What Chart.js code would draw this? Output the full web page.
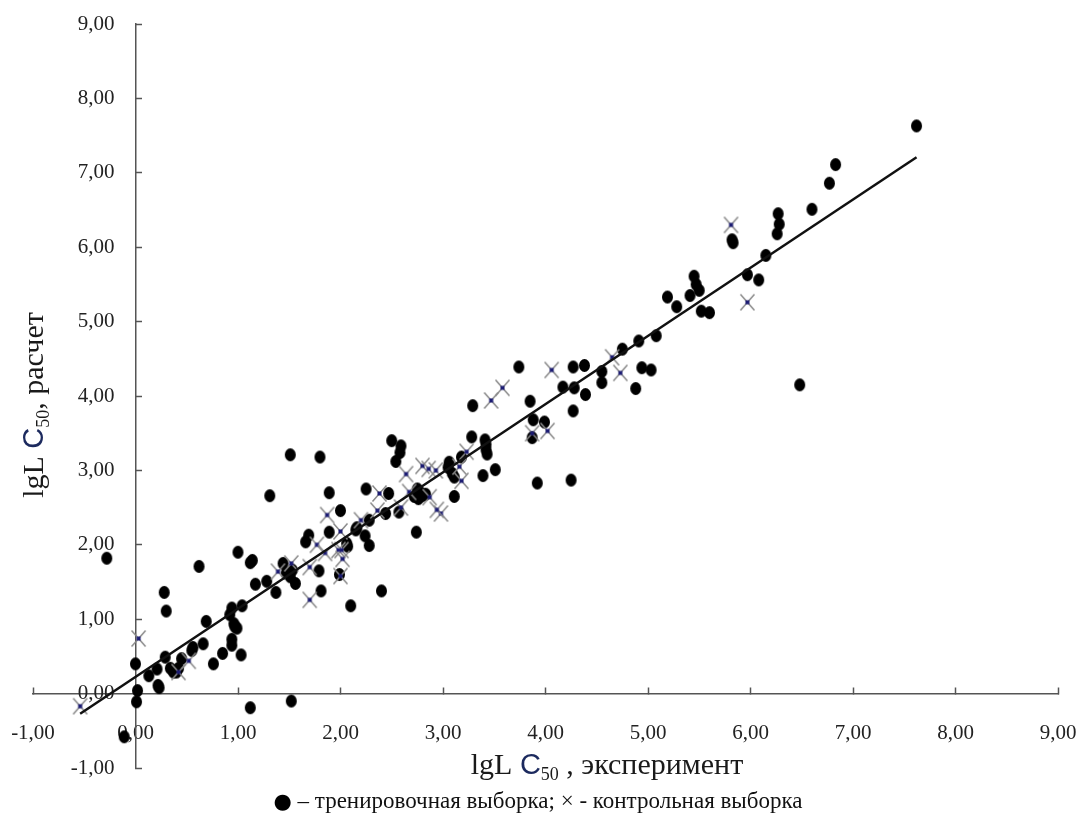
<!DOCTYPE html>
<html lang="ru">
<head>
<meta charset="UTF-8">
<title>lgLC50: расчет / эксперимент</title>
<script src="https://cdn.jsdelivr.net/npm/chart.js"></script>
<style>
  html, body { margin: 0; padding: 0; background: #fff; }
  #wrap { width: 1080px; height: 828px; }
</style>
</head>
<body>
<div id="wrap"><canvas id="chart" width="1080" height="828"></canvas></div>
<script>
// тренировочная выборка (●)
const trainX = [-0.28, -0.11, 0.00, 0.02, 0.01, 0.13, 0.21, 0.22, 0.23, 0.28, 0.30, 0.29, 0.34, 0.37, 0.40, 0.42, 0.45, 0.55, 0.56, 0.62,
  0.66, 0.69, 0.76, 0.85, 0.92, 0.94, 0.94, 0.94, 0.96, 0.99, 0.97, 1.00, 1.03, 1.04, 1.12, 1.12, 1.14, 1.17, 1.28, 1.31,
  1.37, 1.44, 1.47, 1.51, 1.53, 1.56, 1.51, 1.52, 1.66, 1.69, 1.79, 1.80, 1.81, 1.89, 1.89, 1.99, 2.00, 2.06, 2.07, 2.10,
  2.15, 2.16, 2.24, 2.28, 2.28, 2.25, 2.40, 2.44, 2.47, 2.50, 2.54, 2.57, 2.58, 2.59, 2.74, 2.72, 2.75, 2.78, 2.80, 2.76,
  2.83, 3.05, 3.06, 3.09, 3.11, 3.11, 3.18, 3.28, 3.29, 3.39, 3.41, 3.42, 3.42, 3.43, 3.51, 3.74, 3.85, 3.88, 3.87, 3.92,
  3.99, 4.17, 4.25, 4.27, 4.28, 4.27, 4.38, 4.39, 4.55, 4.55, 4.75, 4.91, 5.08, 4.94, 5.03, 4.88, 5.19, 5.28, 5.41, 5.45,
  5.47, 5.50, 5.52, 5.60, 5.82, 5.83, 5.97, 6.08, 6.15, 6.27, 6.28, 6.26, 6.48, 6.60, 6.77, 6.83, 7.62];
const trainY = [1.82, -0.58, 0.40, 0.04, -0.11, 0.24, 0.33, 0.11, 0.08, 1.36, 1.11, 0.49, 0.34, 0.29, 0.29, 0.34, 0.47, 0.58, 0.62, 1.71,
  0.67, 0.97, 0.40, 0.54, 1.06, 1.15, 0.73, 0.65, 0.94, 0.88, 0.90, 1.90, 0.52, 1.18, -0.19, 1.76, 1.79, 1.47, 1.51, 2.66,
  1.36, 1.75, 1.62, 1.57, 1.66, 1.48, 3.21, -0.10, 2.04, 2.13, 1.65, 3.18, 1.38, 2.70, 2.17, 1.60, 2.46, 2.02, 1.98, 1.18,
  2.20, 2.23, 2.12, 1.99, 2.33, 2.75, 1.38, 2.42, 2.69, 3.40, 3.12, 2.44, 3.24, 3.33, 2.17, 2.65, 2.75, 2.70, 2.66, 2.62,
  2.68, 3.04, 3.11, 2.96, 2.91, 2.65, 3.18, 3.45, 3.87, 2.93, 3.41, 3.35, 3.28, 3.22, 3.01, 4.39, 3.93, 3.68, 3.44, 2.83,
  3.65, 4.12, 2.87, 3.80, 4.11, 4.39, 4.41, 4.02, 4.33, 4.18, 4.63, 4.74, 4.81, 4.38, 4.35, 4.10, 5.33, 5.20, 5.35, 5.61,
  5.50, 5.42, 5.14, 5.12, 6.10, 6.06, 5.63, 5.56, 5.89, 6.45, 6.31, 6.18, 4.15, 6.51, 6.86, 7.11, 7.63];

// контрольная выборка (×)
const ctrlX = [-0.54, 0.03, 0.52, 0.42, 1.39, 1.52, 1.70, 1.70, 1.77, 1.85, 1.87, 2.00, 1.98, 2.01, 2.02, 2.00, 2.20, 2.36, 2.38, 2.59,
  2.64, 2.67, 2.80, 2.86, 2.93, 2.87, 2.98, 2.94, 3.16, 3.18, 3.23, 3.47, 3.58, 3.87, 4.02, 4.06, 4.65, 4.73, 5.81, 5.97];
const ctrlY = [-0.17, 0.74, 0.44, 0.29, 1.64, 1.75, 1.26, 1.70, 2.00, 1.89, 2.40, 2.18, 1.93, 1.93, 1.81, 1.58, 2.33, 2.46, 2.69, 2.50,
  2.95, 2.71, 3.06, 3.02, 3.00, 2.64, 2.42, 2.47, 3.05, 2.86, 3.25, 3.94, 4.11, 3.50, 3.53, 4.35, 4.52, 4.31, 6.30, 5.26];

// линия регрессии (концы)
const lineX = [-0.54, 7.62];
const lineY = [-0.27, 7.21];

const axisMin = -1;
const axisMax = 9;

function pts(xs, ys) {
  return xs.map((x, i) => ({ x: x, y: ys[i] }));
}
function fmt(v) {
  return Number(v).toFixed(2).replace('.', ',');
}

// маркеры
function makeDot() {
  const c = document.createElement('canvas');
  c.width = 13; c.height = 15;
  const g = c.getContext('2d');
  g.fillStyle = '#000';
  g.beginPath();
  g.ellipse(6.5, 7.5, 5.5, 6.5, 0, 0, Math.PI * 2);
  g.fill();
  return c;
}
function makeCross() {
  const c = document.createElement('canvas');
  c.width = 17; c.height = 19;
  const g = c.getContext('2d');
  g.strokeStyle = '#8a8a8a';
  g.lineWidth = 1.5;
  g.beginPath();
  g.moveTo(1.5, 1.5); g.lineTo(15.5, 17.5);
  g.moveTo(15.5, 1.5); g.lineTo(1.5, 17.5);
  g.stroke();
  g.fillStyle = '#1b1b72';
  g.fillRect(6.5, 7.5, 4, 4);
  return c;
}

const serif = 'Liberation Serif';

// подписи осей и легенда
function drawRich(ctx, parts, cx, baseY) {
  let total = 0;
  parts.forEach(p => { ctx.font = p.font; total += ctx.measureText(p.text).width; });
  let x = cx - total / 2;
  parts.forEach(p => {
    ctx.font = p.font;
    ctx.fillStyle = p.color || '#1a1a1a';
    ctx.fillText(p.text, x, baseY + (p.dy || 0));
    x += ctx.measureText(p.text).width;
  });
}

const textPlugin = {
  id: 'texts',
  afterDraw(chart) {
    const ctx = chart.ctx;
    ctx.save();
    ctx.textBaseline = 'alphabetic';
    ctx.textAlign = 'left';
    const big = '30px "' + serif + '"';
    const sub = '18px "' + serif + '"';
    const cfont = '29px "Liberation Sans"';

    // ось X
    drawRich(ctx, [
      { text: 'lgL ', font: big },
      { text: 'C', font: cfont, color: '#1c2a5e' },
      { text: '50', font: sub, dy: 6 },
      { text: ' , эксперимент', font: big }
    ], 607, 774);

    // ось Y
    ctx.save();
    ctx.translate(33, 405);
    ctx.rotate(-Math.PI / 2);
    drawRich(ctx, [
      { text: 'lgL ', font: big },
      { text: 'C', font: cfont, color: '#1c2a5e' },
      { text: '50', font: sub, dy: 6 },
      { text: ', расчет', font: big }
    ], 0, 10);
    ctx.restore();

    // легенда
    drawRich(ctx, [
      { text: '●', font: '21px "DejaVu Sans"', color: '#000' },
      { text: ' – тренировочная выборка; × - контрольная выборка', font: '23px "' + serif + '"', color: '#111' }
    ], 538, 808);
    ctx.restore();
  }
};

const axisFont = { family: serif, size: 21 };

new Chart(document.getElementById('chart'), {
  type: 'scatter',
  data: {
    datasets: [
      {
        type: 'line',
        label: 'регрессия',
        data: pts(lineX, lineY),
        borderColor: '#111',
        borderWidth: 2.5,
        pointRadius: 0,
        fill: false,
        order: 0
      },
      {
        label: 'контрольная выборка',
        data: pts(ctrlX, ctrlY),
        pointStyle: makeCross(),
        pointRadius: 6,
        order: 1
      },
      {
        label: 'тренировочная выборка',
        data: pts(trainX, trainY),
        pointStyle: makeDot(),
        pointRadius: 6,
        order: 2
      }
    ]
  },
  options: {
    responsive: false,
    animation: false,
    layout: { padding: { left: 33, right: 22, top: 24, bottom: 60 } },
    plugins: {
      legend: { display: false },
      tooltip: { enabled: false }
    },
    scales: {
      x: {
        type: 'linear',
        min: axisMin,
        max: axisMax,
        position: { y: 0 },
        afterFit: s => { s.height = 0; s.paddingLeft = 0; s.paddingRight = 0; },
        ticks: {
          stepSize: 1,
          autoSkip: false,
          maxRotation: 0,
          padding: 34,
          color: '#222',
          font: axisFont,
          callback: v => fmt(v)
        },
        grid: { drawOnChartArea: false, drawTicks: true, tickLength: -7, tickColor: '#555', tickWidth: 1.5 },
        border: { display: true, color: '#555', width: 1.5 }
      },
      y: {
        type: 'linear',
        min: axisMin,
        max: axisMax,
        position: { x: 0 },
        afterFit: s => { s.width = 0; s.paddingTop = 0; s.paddingBottom = 0; },
        ticks: {
          stepSize: 1,
          autoSkip: false,
          color: '#222',
          font: axisFont,
          // axis placed at x = 0 ignores padding, so keep a gap with trailing spaces
          callback: v => fmt(v) + '    '
        },
        grid: { drawOnChartArea: false, drawTicks: true, tickLength: -7, tickColor: '#555', tickWidth: 1.5 },
        border: { display: true, color: '#555', width: 1.5 }
      }
    }
  },
  plugins: [textPlugin]
});
</script>
</body>
</html>
